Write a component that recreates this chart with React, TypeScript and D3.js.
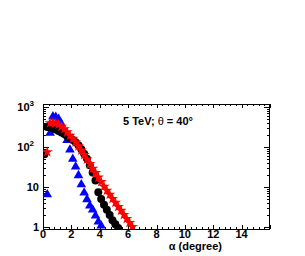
import React from "react";
import * as d3 from "d3";

const W = 305;
const H = 256;

const xTicks = [0, 2, 4, 6, 8, 10, 12, 14];
const yTicks = [1, 10, 100, 1000];
const yTickLabels = ["1", "10", "10", "10"];
const yTickSup = ["", "", "2", "3"];

const blackAlpha = [0.1, 0.3, 0.5, 0.7, 0.9, 1.1, 1.3, 1.5, 1.7, 1.9, 2.1, 2.3, 2.5, 2.7, 2.9, 3.1, 3.3, 3.5, 3.7, 3.9, 4.1, 4.3, 4.5, 4.7, 4.9, 5.1, 5.3];
const blackValues = [66, 316, 310, 290, 275, 250, 230, 210, 186, 165, 150, 132, 111, 88, 68, 51, 35, 23, 14.6, 7.4, 5.0, 3.6, 2.7, 2.0, 1.48, 1.17, 0.95];

const redAlpha = [0.3, 0.5, 0.7, 0.9, 1.1, 1.3, 1.5, 1.7, 1.9, 2.1, 2.3, 2.5, 2.7, 2.9, 3.1, 3.3, 3.5, 3.7, 3.9, 4.1, 4.3, 4.5, 4.7, 4.9, 5.1, 5.3, 5.5, 5.7, 5.9, 6.1, 6.3];
const redValues = [75, 400, 410, 400, 365, 325, 280, 235, 193, 162, 132, 105, 83, 64, 49, 38, 29, 22.5, 17.4, 13.4, 10.3, 8.2, 6.5, 5.1, 4.1, 3.2, 2.56, 2.03, 1.6, 1.28, 1.01];

const blueAlpha = [0.3, 0.5, 0.7, 0.9, 1.1, 1.3, 1.5, 1.7, 1.9, 2.1, 2.3, 2.5, 2.7, 2.9, 3.1, 3.3, 3.5, 3.7, 3.9, 4.1];
const blueValues = [6.5, 223, 580, 560, 500, 375, 250, 148, 85, 50, 32, 19.5, 11.5, 7.2, 4.9, 3.4, 2.7, 1.9, 1.35, 1.07];

const left = 43;
const right = 270;
const top = 104;
const bottom = 229;

export default function App() {
  const x = d3.scaleLinear().domain([0, 16]).range([left, right]);
  const y = d3.scaleLog().domain([0.89, 1190]).range([bottom, top]);

  const font = "'Liberation Sans', Arial, Helvetica, sans-serif";

  const xMinor: number[] = [];
  for (let v = 0; v <= 16.001; v += 0.4) xMinor.push(+v.toFixed(2));
  const yMinor: number[] = [];
  for (let d = 0.1; d <= 1000; d *= 10) {
    for (let k = 1; k <= 9; k++) {
      const v = d * k;
      if (v >= 0.89 && v <= 1190) yMinor.push(v);
    }
  }

  const circle = d3.symbol().type(d3.symbolCircle).size(50)();
  const tri = d3.symbol().type(d3.symbolTriangle).size(40)();
  const star = d3.symbol().type(d3.symbolStar).size(38)();

  const clip = (v: number) => v >= 0.89;

  return (
    <svg width={W} height={H} style={{ position: "absolute", left: 0, top: 0, background: "#fff" }}>
      <defs>
        <clipPath id="frame">
          <rect x={left} y={top} width={right - left} height={bottom - top} />
        </clipPath>
      </defs>
      {/* ticks */}
      <g stroke="#000" strokeWidth={1}>
        {xMinor.map((v, i) => {
          const isMajor = Math.abs(v / 2 - Math.round(v / 2)) < 0.01;
          const len = isMajor ? 4 : 2;
          const px = Math.round(x(v)) + 0.5;
          return (
            <g key={"xm" + i}>
              <line x1={px} x2={px} y1={bottom} y2={bottom - len} />
              <line x1={px} x2={px} y1={top} y2={top + len} />
            </g>
          );
        })}
        {yMinor.map((v, i) => {
          const isMajor = Math.abs(Math.log10(v) - Math.round(Math.log10(v))) < 0.001;
          const len = isMajor ? 6 : 3;
          const py = Math.round(y(v)) + 0.5;
          return (
            <g key={"ym" + i}>
              <line x1={left} x2={left + len} y1={py} y2={py} />
              <line x1={right} x2={right - len} y1={py} y2={py} />
            </g>
          );
        })}
      </g>
      <rect x={left + 0.5} y={top + 0.5} width={right - left - 1} height={bottom - top} fill="none" stroke="#000" strokeWidth={1} />

      {/* data */}
      <g clipPath="url(#frame)">
        {blueAlpha.map((a, i) =>
          clip(blueValues[i]) ? (
            <path key={"b" + i} d={tri!} transform={`translate(${x(a)},${y(blueValues[i])})`} fill="#0000ff" />
          ) : null
        )}
        {blackAlpha.map((a, i) =>
          clip(blackValues[i]) ? (
            <path key={"k" + i} d={circle!} transform={`translate(${x(a)},${y(blackValues[i])})`} fill="#000" />
          ) : null
        )}
        {redAlpha.map((a, i) =>
          clip(redValues[i]) ? (
            <path key={"r" + i} d={star!} transform={`translate(${x(a)},${y(redValues[i])})`} fill="#ff0000" />
          ) : null
        )}
      </g>

      {/* x tick labels */}
      <g fontFamily={font} fontWeight="bold" fontSize={11} textAnchor="middle">
        {xTicks.map((v) => (
          <text key={"xl" + v} x={x(v)} y={238}>
            {v}
          </text>
        ))}
      </g>
      {/* y tick labels */}
      <g fontFamily={font} fontWeight="bold" fontSize={11} textAnchor="end">
        {yTicks.map((v, i) => (
          <text key={"yl" + v} x={yTickSup[i] ? 34 : 39} y={y(v) + 4}>
            {yTickLabels[i]}
            {yTickSup[i] ? (
              <tspan fontSize={8} dy={-5}>
                {yTickSup[i]}
              </tspan>
            ) : null}
          </text>
        ))}
      </g>

      <text x={123} y={125} fontFamily={font} fontWeight="bold" fontSize={11}>
        5 TeV;{" "}
        <tspan fontWeight="normal">θ</tspan> = 40°
      </text>

      <text x={222} y={250} fontFamily={font} fontWeight="bold" fontSize={11} textAnchor="end">
        α (degree)
      </text>
    </svg>
  );
}
